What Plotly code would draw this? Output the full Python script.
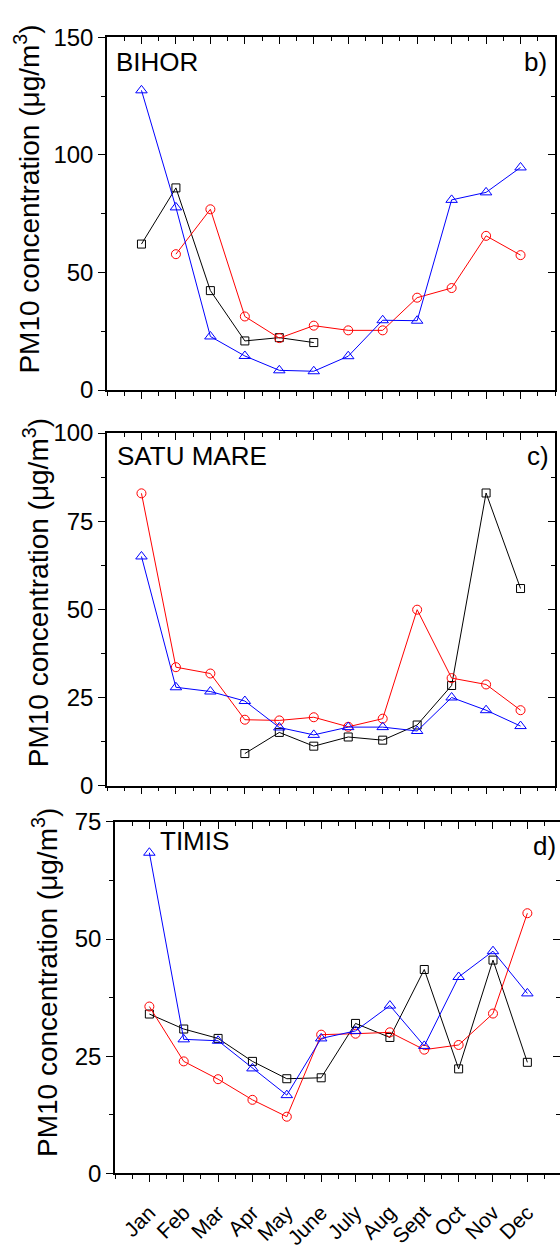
import plotly.graph_objects as go

months = ["Jan", "Feb", "Mar", "Apr", "May", "June", "July", "Aug", "Sept", "Oct", "Nov", "Dec"]
month_pos = list(range(1, 13))

# BIHOR (panel b)
bihor_black = [62.1, 86.0, 42.3, 20.9, 22.3, 20.2, None, None, None, None, None, None]
bihor_red = [None, 57.8, 76.9, 31.3, 22.1, 27.4, 25.4, 25.4, 39.3, 43.4, 65.6, 57.4]
bihor_blue = [127.5, 77.7, 22.8, 14.5, 8.4, 8.0, 14.4, 29.7, 29.5, 80.9, 84.1, 94.7]

# SATU MARE (panel c)
satu_black = [None, None, None, 9.1, 15.1, 11.2, 13.8, 12.9, 17.2, 28.4, 83.0, 55.9]
satu_red = [82.9, 33.6, 31.8, 18.7, 18.5, 19.4, 16.7, 19.0, 49.9, 30.5, 28.7, 21.4]
satu_blue = [65.0, 27.9, 26.7, 24.0, 16.5, 14.4, 16.6, 16.6, 15.5, 25.0, 21.4, 16.9]

# TIMIS (panel d)
timis_black = [34.0, 30.8, 28.8, 23.9, 20.2, 20.4, 32.0, 29.0, 43.5, 22.3, 45.5, 23.7]
timis_red = [35.6, 23.9, 20.1, 15.7, 12.1, 29.6, 29.8, 30.1, 26.4, 27.4, 34.1, 55.5]
timis_blue = [68.4, 28.6, 28.3, 22.4, 16.7, 28.8, 30.4, 35.8, 27.2, 41.9, 47.4, 38.4]

panel_names = ["BIHOR", "SATU MARE", "TIMIS"]
panel_tags = ["b)", "c)", "d)"]
y_max = [150, 100, 75]
y_dtick = [50, 25, 25]

W, H = 560, 1249
FONT = "Liberation Sans, Arial, sans-serif"

# layout geometry (pixels)
x_dom_px = [(107, 555), (107, 555), (115, 560)]
x_rng = [13, 13, 12.95]
y_dom_px = [(24, 385), (429, 790), (827, 1187)]

series = [
    (bihor_black, bihor_red, bihor_blue),
    (satu_black, satu_red, satu_blue),
    (timis_black, timis_red, timis_blue),
]

fig = go.Figure()
layout = dict(
    width=W, height=H, margin=dict(l=0, r=0, t=0, b=0),
    paper_bgcolor="white", plot_bgcolor="white", showlegend=False,
    font=dict(family=FONT, color="black", size=23),
)

half_ticks = [k / 2 for k in range(0, 27)]

annotations = []
for i in range(3):
    n = i + 1
    xa = "x" if n == 1 else f"x{n}"
    ya = "y" if n == 1 else f"y{n}"
    xkey = "xaxis" if n == 1 else f"xaxis{n}"
    ykey = "yaxis" if n == 1 else f"yaxis{n}"
    xt = 3 + n  # top mirror axes
    yr = 3 + n  # right mirror axes
    xd = [x_dom_px[i][0] / W, x_dom_px[i][1] / W]
    yd = [1 - y_dom_px[i][1] / H, 1 - y_dom_px[i][0] / H]

    blk, red, blu = series[i]
    fig.add_trace(go.Scatter(x=month_pos, y=blk, xaxis=xa, yaxis=ya, mode="lines+markers",
                             line=dict(color="black", width=1), connectgaps=False,
                             marker=dict(symbol="square-open", size=8, color="black", line=dict(width=1))))
    fig.add_trace(go.Scatter(x=month_pos, y=red, xaxis=xa, yaxis=ya, mode="lines+markers",
                             line=dict(color="red", width=1),
                             marker=dict(symbol="circle-open", size=9, color="red", line=dict(width=1))))
    fig.add_trace(go.Scatter(x=month_pos, y=blu, xaxis=xa, yaxis=ya, mode="lines+markers",
                             line=dict(color="blue", width=1),
                             marker=dict(symbol="triangle-up-open", size=10, color="blue", line=dict(width=1))))

    layout[xkey] = dict(
        domain=xd, anchor=ya, range=[0, x_rng[i]], showgrid=False, zeroline=False,
        showline=True, linecolor="black", linewidth=1.5,
        tickmode="array", tickvals=month_pos, ticktext=months,
        showticklabels=(n == 3), tickangle=-45, ticklabelstandoff=10,
        ticks="outside", ticklen=7, tickwidth=1.2, tickcolor="black",
        tickfont=dict(size=21, family=FONT),
        minor=dict(tickmode="array", tickvals=half_ticks, ticks="outside", ticklen=4,
                   tickwidth=1, tickcolor="black"),
    )
    layout[ykey] = dict(
        domain=yd, anchor=xa, range=[0, y_max[i]], showgrid=False, zeroline=False,
        showline=True, linecolor="black", linewidth=1.5,
        tickmode="linear", tick0=0, dtick=y_dtick[i],
        ticks="outside", ticklen=7, tickwidth=1.2, tickcolor="black",
        tickfont=dict(size=24, family=FONT),
        minor=dict(dtick=y_dtick[i] / 2, ticks="outside", ticklen=4, tickwidth=1, tickcolor="black"),
    )
    layout[f"xaxis{xt}"] = dict(
        overlaying=xa, side="top", anchor=ya, range=[0, x_rng[i]], showgrid=False, zeroline=False,
        showline=True, linecolor="black", linewidth=1.5,
        tickmode="array", tickvals=month_pos, showticklabels=False,
        ticks="inside", ticklen=7, tickwidth=1.2, tickcolor="black",
        minor=dict(tickmode="array", tickvals=half_ticks, ticks="inside", ticklen=4,
                   tickwidth=1, tickcolor="black"),
    )
    layout[f"yaxis{yr}"] = dict(
        overlaying=ya, side="right", anchor=xa, range=[0, y_max[i]], showgrid=False, zeroline=False,
        showline=(n != 3), linecolor="black", linewidth=1.5,
        tickmode="linear", tick0=0, dtick=y_dtick[i], showticklabels=False,
        ticks="inside", ticklen=7, tickwidth=1.2, tickcolor="black",
        minor=dict(dtick=y_dtick[i] / 2, ticks="inside", ticklen=4, tickwidth=1, tickcolor="black"),
    )
    fig.add_trace(go.Scatter(x=[None], y=[None], xaxis=f"x{xt}", yaxis=ya, showlegend=False, hoverinfo="skip"))
    fig.add_trace(go.Scatter(x=[None], y=[None], xaxis=xa, yaxis=f"y{yr}", showlegend=False, hoverinfo="skip"))

name_pos = [(114, 49), (115, 453), (158, 847)]
tag_pos = [(549, 49), (551, 452), (558, 852)]
title_pos = [(27, 190), (36, 593), (45, 992)]
for i in range(3):
    annotations.append(dict(xref="paper", yref="paper", x=name_pos[i][0] / W, y=1 - name_pos[i][1] / H,
                            xanchor="left", yanchor="middle", text=panel_names[i], showarrow=False,
                            font=dict(size=26, family=FONT, color="black")))
    annotations.append(dict(xref="paper", yref="paper", x=tag_pos[i][0] / W, y=1 - tag_pos[i][1] / H,
                            xanchor="right", yanchor="middle", text=panel_tags[i], showarrow=False,
                            font=dict(size=26, family=FONT, color="black")))
    annotations.append(dict(xref="paper", yref="paper", x=title_pos[i][0] / W, y=1 - title_pos[i][1] / H,
                            xanchor="center", yanchor="middle", textangle=-90,
                            text="PM10 concentration (\u03bcg/m<sup>3</sup>)", showarrow=False,
                            font=dict(size=28, family=FONT, color="black")))

layout["annotations"] = annotations
fig.update_layout(**layout)
fig.write_html("out.html", config={"displayModeBar": False},
               post_script="document.body.style.margin='0';document.body.style.overflow='hidden';")
